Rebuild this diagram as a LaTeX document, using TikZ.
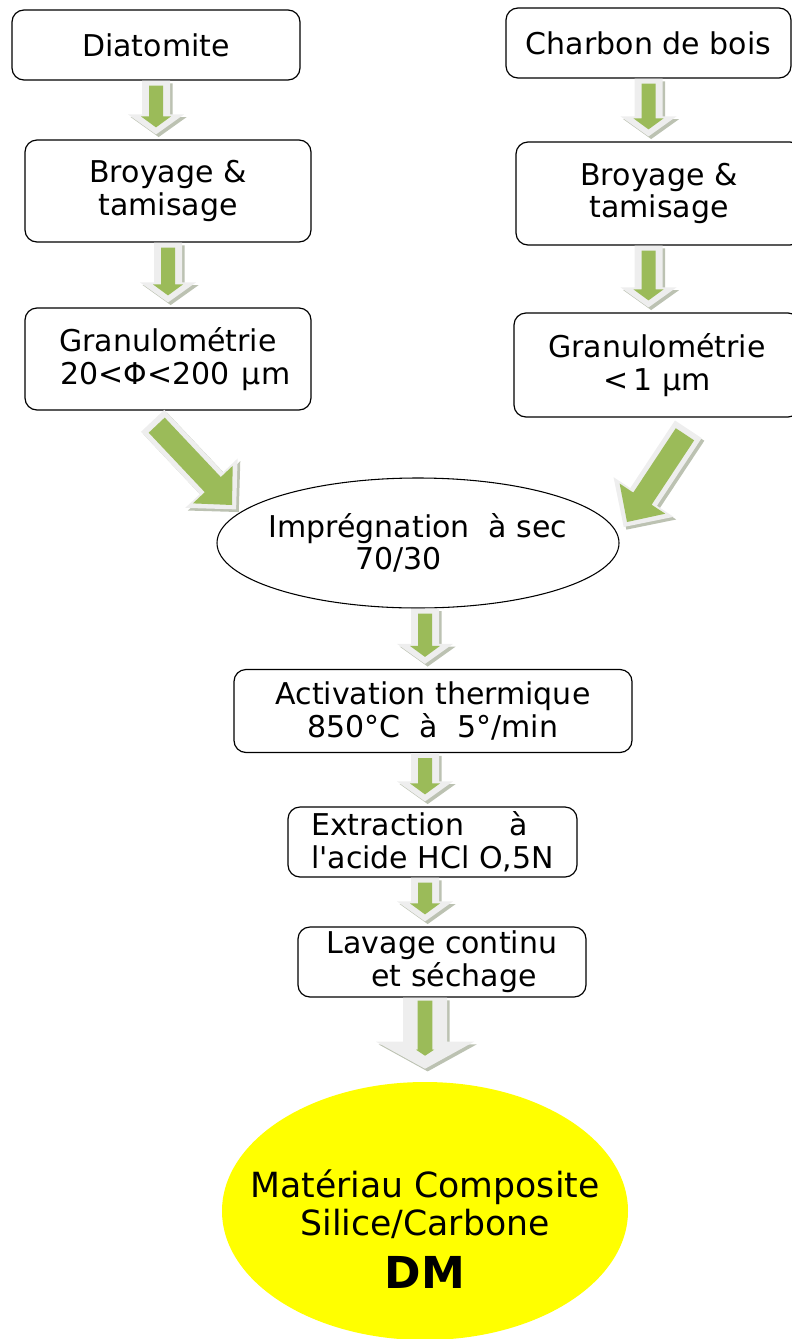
\documentclass[tikz,border=0pt]{standalone}
\usepackage{fontspec}
\setmainfont{DejaVu Sans}
\usetikzlibrary{calc}
\usetikzlibrary{shapes.geometric}
\definecolor{leafgreen}{RGB}{155,187,89}
\definecolor{glowgray}{RGB}{238,238,238}
\definecolor{shadegray}{RGB}{188,194,178}
\definecolor{dmyellow}{RGB}{255,255,0}
\tikzset{
  fatpath/.code args={#1/#2/#3/#4/#5}{\def\fw{#1}\def\fh{#2}\def\fl{#3}\def\fa{#4}\def\fb{#5}},
  fat/.style={to path={
      ($(\tikztostart)!\fa!(\tikztotarget)$) coordinate (fs)
      ($(\tikztotarget)!\fb!(\tikztostart)$) coordinate (ft)
      ($(ft)!\fl!(fs)$) coordinate (fk)
      ($(fs)!\fw!90:(ft)$) -- ($(fk)!\fw!90:(ft)$) -- ($(fk)!\fh!90:(ft)$) -- (ft)
      -- ($(fk)!\fh!-90:(ft)$) -- ($(fk)!\fw!-90:(ft)$) -- ($(fs)!\fw!-90:(ft)$) -- cycle}},
  arrow green/.style={fat, fatpath={#1}, fill=leafgreen},
  arrow glow/.style={fat, fatpath={#1}, fill=glowgray,
      preaction={fill=shadegray, transform canvas={xshift=2pt,yshift=-2pt}}},
  flowgreen/.style={arrow green=5.25pt/11.25pt/8.25pt/3.75pt/9pt},
  flowglow/.style={arrow glow=10.5pt/21pt/15pt/0pt/3.75pt},
  bigflowgreen/.style={arrow green=8.25pt/20.5pt/21pt/15pt/0pt},
  bigflowglow/.style={arrow glow=12pt/27pt/27pt/10.5pt/-4.5pt},
  box/.style={draw, rounded corners=9pt, line width=0.9pt, align=center, inner sep=0pt,
      font=\fontsize{22.5}{24.5}\selectfont},
}

\begin{document}
\begin{tikzpicture}[x=0.75pt,y=0.75pt,yscale=-1,xscale=1]
\useasboundingbox (0,0) rectangle (792,1339);

%Shape: Rounded Rect [id:dia]
\draw (156,45) node [box, minimum width=216pt, minimum height=52.5pt] (dia) {Diatomite};
%Shape: Rounded Rect [id:broy1]
\draw (168,191) node [box, minimum width=214.5pt, minimum height=76.5pt] (broy1) {Broyage \&\\tamisage};
%Shape: Rounded Rect [id:gran1]
\draw (168,359) node [box, minimum width=214.5pt, minimum height=76.5pt] (gran1) {Granulométrie\\\makebox[0.5em]{}20<Φ<200\hspace{0.4em}µm};
%Shape: Rounded Rect [id:charb]
\draw (648.5,43) node [box, minimum width=213.75pt, minimum height=52.5pt] (charb) {Charbon de bois};
%Shape: Rounded Rect [id:broy2]
\draw (659,193.5) node [box, minimum width=214.5pt, minimum height=77.25pt] (broy2) {Broyage \&\\tamisage};
%Shape: Rounded Rect [id:gran2]
\draw (657,365) node [box, minimum width=214.5pt, minimum height=78pt] (gran2) {Granulométrie\\<\,1 µm};
%Shape: Ellipse [id:impr]
\draw (418,543) node [ellipse, draw, line width=0.8pt, minimum width=301.5pt, minimum height=97.5pt, inner xsep=-8pt, inner ysep=0pt, align=center, font=\fontsize{22.5}{24}\selectfont] (impr) {Imprégnation~ à sec\\70/30\makebox[1.3em]{}};
%Shape: Rounded Rect [id:act]
\draw (433,711) node [box, minimum width=298.5pt, minimum height=62.25pt] (act) {Activation thermique\\850°C~ à~ 5°/min};
%Shape: Rounded Rect [id:ext]
\draw (432.5,842) node [box, align=left, minimum width=216.75pt, minimum height=52.5pt] (ext) {Extraction\hspace{1.5em}à\\l\textquotesingle acide HCl O,5N};
%Shape: Rounded Rect [id:lav]
\draw (442,962) node [box, minimum width=216pt, minimum height=52.5pt] (lav) {Lavage continu\\\makebox[0.8em]{}et séchage};
%Shape: Ellipse [id:dm]
\draw (425,1211) node [ellipse, fill=dmyellow, minimum width=304.5pt, minimum height=193.5pt, inner xsep=-26pt, inner ysep=0pt, align=center, font=\fontsize{26}{28}\selectfont] (dm) {\rule{0pt}{48pt}Matériau Composite\\Silice/Carbone\\[12pt]{\fontsize{33}{36}\selectfont\bfseries DM}};

%Block Arrows left
\fill [flowglow] (dia.south) to (dia.south |- broy1.north);
\fill [flowgreen] (dia.south) to (dia.south |- broy1.north);
\fill [flowglow] (broy1.south) to (gran1.north);
\fill [flowgreen] (broy1.south) to (gran1.north);
%Block Arrows right
\fill [flowglow] (charb.south) to (charb.south |- broy2.north);
\fill [flowgreen] (charb.south) to (charb.south |- broy2.north);
\fill [flowglow] (charb.south |- broy2.south) to (charb.south |- gran2.north);
\fill [flowgreen] (charb.south |- broy2.south) to (charb.south |- gran2.north);
%Block Arrows into the ellipse
\coordinate (ltail) at ($(gran1.south)+(-25,0)$);
\coordinate (ltip) at (232,505);
\fill [bigflowglow] (ltail) to (ltip);
\fill [bigflowgreen] (ltail) to (ltip);
\coordinate (rtail) at ($(gran2.south)+(39,0)$);
\coordinate (rtip) at (627,522);
\fill [bigflowglow] (rtail) to (rtip);
\fill [bigflowgreen] (rtail) to (rtip);
%Block Arrows middle
\fill [flowglow] (impr.south -| dm.north) to (act.north -| dm.north);
\fill [flowgreen] (impr.south -| dm.north) to (act.north -| dm.north);
\fill [flowglow] (act.south -| dm.north) to (ext.north -| dm.north);
\fill [flowgreen] (act.south -| dm.north) to (ext.north -| dm.north);
\fill [flowglow] (ext.south -| dm.north) to (lav.north -| dm.north);
\fill [flowgreen] (ext.south -| dm.north) to (lav.north -| dm.north);
\fill [arrow glow=16.5pt/36.75pt/20.25pt/0pt/9.75pt] (lav.south -| dm.north) to (dm.north);
\fill [arrow green=5.6pt/6.75pt/4.5pt/2.25pt/19.5pt] (lav.south -| dm.north) to (dm.north);

\end{tikzpicture}
\end{document}
